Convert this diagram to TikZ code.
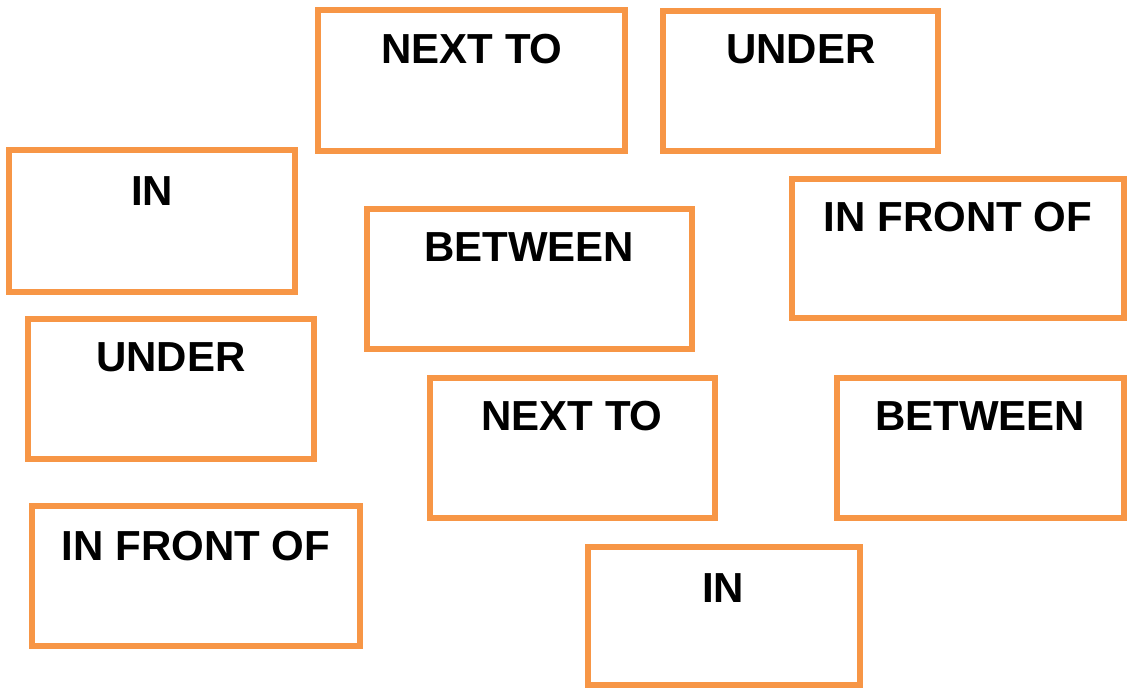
\documentclass[tikz,border=0pt]{standalone}
\usepackage{fontspec}
\setmainfont{Liberation Sans}
\definecolor{cardorange}{HTML}{F79646}

\begin{document}
\begin{tikzpicture}[x=1pt, y=-1pt,
		card/.style = {draw = cardorange, line width = 6.5pt},
		word/.style = {anchor = base, inner sep = 0pt, font = \fontsize{42}{50}\selectfont\bfseries}]
		
		\useasboundingbox (0,0) rectangle (1128,689);
		
		\draw[card] (318,10) rectangle (625,151);
		\draw[card] (663,11) rectangle (938,151);
		\draw[card] (9,150) rectangle (295,292);
		\draw[card] (367,209) rectangle (692,349);
		\draw[card] (792,179) rectangle (1124,318);
		\draw[card] (28,319) rectangle (314,459);
		\draw[card] (430,378) rectangle (715,518);
		\draw[card] (837,378) rectangle (1124,518);
		\draw[card] (32,506) rectangle (360,646);
		\draw[card] (588,547) rectangle (860,685);
		
		\node[word] at (472,63) (nt1) {NEXT TO};
		\node[word] at (801,63) (un1) {UNDER};
		\node[word] at (152,205) (in1) {IN};
		\node[word] at (529,261) (bt1) {BETWEEN};
		\node[word] at (958,231) (ifo1) {IN FRONT OF};
		\node[word] at (171,371) (un2) {UNDER};
		\node[word] at (572,430) (nt2) {NEXT TO};
		\node[word] at (980,430) (bt2) {BETWEEN};
		\node[word] at (196,560) (ifo2) {IN FRONT OF};
		\node[word] at (723,602) (in2) {IN};
		
		\end{tikzpicture}
\end{document}
